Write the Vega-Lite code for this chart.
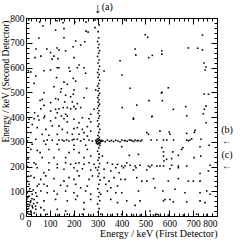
{
"$schema":"https://vega.github.io/schema/vega-lite/v6.json",
"width":191,"height":198,
"autosize":{"type":"none"},
"padding":{"left":26,"top":18,"right":23,"bottom":27},
"background":"white",
"config":{"view":{"stroke":null},"font":"Liberation Serif","axis":{"grid":false,"domainColor":"black","tickColor":"black","labelColor":"black","titleColor":"black","labelFont":"Liberation Serif","titleFont":"Liberation Serif","labelFontSize":9.5,"titleFontSize":10,"titleFontWeight":"normal","domainWidth":1,"tickWidth":1}},
"datasets":{
"pts":[
{"x":11,"y":792},{"x":57,"y":784},{"x":130,"y":789},{"x":150,"y":795},{"x":155,"y":781},{"x":205,"y":784},{"x":251,"y":784},{"x":289,"y":792},{"x":71,"y":768},{"x":124,"y":751},{"x":159,"y":757},{"x":251,"y":747},{"x":260,"y":743},{"x":289,"y":761},{"x":54,"y":719},{"x":159,"y":720},{"x":208,"y":707},{"x":246,"y":704},{"x":87,"y":675},{"x":42,"y":675},{"x":103,"y":660},{"x":130,"y":679},{"x":138,"y":671},{"x":166,"y":667},{"x":197,"y":684},{"x":229,"y":691},{"x":38,"y":640},{"x":62,"y":646},{"x":109,"y":634},{"x":117,"y":646},{"x":134,"y":636},{"x":201,"y":640},{"x":222,"y":610},{"x":394,"y":627},{"x":180,"y":599},{"x":138,"y":599},
{"x":413,"y":792},{"x":499,"y":732},{"x":510,"y":722},{"x":739,"y":731},{"x":457,"y":675},{"x":569,"y":668},{"x":680,"y":679},{"x":719,"y":678},{"x":739,"y":671},{"x":460,"y":650},{"x":529,"y":649},{"x":569,"y":654},{"x":514,"y":640},{"x":746,"y":618},{"x":754,"y":602},{"x":750,"y":590},{"x":402,"y":570},{"x":436,"y":516},{"x":596,"y":518},{"x":567,"y":497},{"x":570,"y":500},{"x":746,"y":493},{"x":764,"y":492},{"x":515,"y":466},{"x":571,"y":466},{"x":464,"y":448},{"x":754,"y":444},{"x":403,"y":438},{"x":669,"y":442},{"x":617,"y":431},{"x":747,"y":431},{"x":743,"y":413},{"x":450,"y":395},{"x":528,"y":403},{"x":673,"y":405},
{"x":10,"y":587},{"x":20,"y":582},{"x":41,"y":566},{"x":75,"y":587},{"x":103,"y":590},{"x":131,"y":599},{"x":184,"y":585},{"x":215,"y":599},{"x":243,"y":599},{"x":250,"y":577},{"x":327,"y":586},{"x":128,"y":559},{"x":198,"y":556},{"x":208,"y":545},{"x":34,"y":536},{"x":159,"y":541},{"x":173,"y":532},{"x":117,"y":522},{"x":254,"y":516},{"x":148,"y":514},{"x":145,"y":501},{"x":201,"y":509},{"x":292,"y":509},{"x":75,"y":498},{"x":166,"y":488},{"x":198,"y":492},{"x":187,"y":482},{"x":68,"y":471},{"x":124,"y":474},{"x":135,"y":471},{"x":59,"y":467},{"x":243,"y":478},{"x":103,"y":458},{"x":162,"y":461},{"x":194,"y":461},{"x":215,"y":454},{"x":62,"y":433},{"x":124,"y":431},{"x":138,"y":433},{"x":156,"y":438},{"x":173,"y":438},{"x":187,"y":433},{"x":201,"y":442},{"x":208,"y":433},{"x":229,"y":438},{"x":75,"y":447},{"x":103,"y":424},{"x":36,"y":417},{"x":131,"y":417},{"x":166,"y":411},{"x":173,"y":404},{"x":271,"y":411},{"x":285,"y":431},{"x":78,"y":404},{"x":50,"y":404},{"x":148,"y":404},
{"x":13,"y":391},{"x":34,"y":393},{"x":54,"y":388},{"x":75,"y":397},{"x":103,"y":384},{"x":124,"y":397},{"x":159,"y":393},{"x":173,"y":380},{"x":201,"y":391},{"x":222,"y":377},{"x":236,"y":397},{"x":264,"y":393},{"x":271,"y":380},{"x":26,"y":370},{"x":47,"y":357},{"x":83,"y":350},{"x":110,"y":364},{"x":138,"y":364},{"x":152,"y":350},{"x":201,"y":353},{"x":215,"y":357},{"x":236,"y":350},{"x":257,"y":361},{"x":271,"y":343},{"x":20,"y":337},{"x":68,"y":330},{"x":96,"y":326},{"x":131,"y":330},{"x":173,"y":337},{"x":194,"y":330},{"x":222,"y":330},{"x":243,"y":337},{"x":257,"y":323},{"x":75,"y":303},{"x":89,"y":307},{"x":110,"y":306},{"x":138,"y":307},{"x":152,"y":307},{"x":159,"y":303},{"x":170,"y":307},{"x":180,"y":303},{"x":194,"y":307},{"x":201,"y":310},{"x":215,"y":310},{"x":229,"y":303},{"x":243,"y":310},{"x":264,"y":307},{"x":278,"y":303},{"x":41,"y":310},{"x":5,"y":303},{"x":26,"y":290},{"x":83,"y":290},{"x":131,"y":290},{"x":201,"y":286},{"x":250,"y":286},{"x":20,"y":269},{"x":47,"y":265},{"x":59,"y":256},{"x":96,"y":269},{"x":138,"y":269},{"x":201,"y":269},{"x":257,"y":269},{"x":222,"y":256},{"x":180,"y":256},{"x":68,"y":236},{"x":117,"y":236},{"x":166,"y":236},{"x":243,"y":236},{"x":271,"y":242},{"x":306,"y":236},{"x":320,"y":242},{"x":34,"y":215},{"x":41,"y":209},{"x":96,"y":215},{"x":131,"y":209},{"x":166,"y":215},{"x":187,"y":209},{"x":208,"y":213},{"x":222,"y":215},{"x":243,"y":209},{"x":264,"y":215},{"x":285,"y":209},{"x":341,"y":215},{"x":362,"y":209},{"x":383,"y":209},
{"x":450,"y":391},{"x":527,"y":401},{"x":754,"y":377},{"x":401,"y":307},{"x":415,"y":304},{"x":433,"y":307},{"x":444,"y":304},{"x":457,"y":307},{"x":471,"y":305},{"x":485,"y":307},{"x":506,"y":337},{"x":513,"y":330},{"x":561,"y":343},{"x":600,"y":339},{"x":603,"y":330},{"x":673,"y":334},{"x":708,"y":346},{"x":705,"y":338},{"x":524,"y":307},{"x":548,"y":307},{"x":576,"y":307},{"x":590,"y":307},{"x":618,"y":307},{"x":673,"y":307},{"x":680,"y":304},{"x":687,"y":307},{"x":694,"y":312},{"x":733,"y":310},{"x":401,"y":280},{"x":569,"y":276},{"x":657,"y":276},{"x":652,"y":269},{"x":576,"y":259},{"x":615,"y":259},{"x":638,"y":245},{"x":729,"y":280},{"x":767,"y":286},{"x":471,"y":249},{"x":433,"y":245},{"x":576,"y":242},{"x":589,"y":229},{"x":610,"y":232},{"x":578,"y":222},{"x":704,"y":236},{"x":732,"y":242},{"x":422,"y":215},{"x":401,"y":202},{"x":415,"y":202},{"x":436,"y":205},{"x":457,"y":202},{"x":478,"y":205},{"x":513,"y":202},{"x":527,"y":205},{"x":548,"y":202},{"x":561,"y":202},{"x":576,"y":202},{"x":610,"y":205},{"x":638,"y":202},{"x":673,"y":202},{"x":771,"y":205},
{"x":47,"y":195},{"x":75,"y":175},{"x":96,"y":186},{"x":131,"y":195},{"x":159,"y":189},{"x":201,"y":195},{"x":215,"y":182},{"x":236,"y":191},{"x":271,"y":186},{"x":292,"y":195},{"x":327,"y":189},{"x":355,"y":182},{"x":376,"y":195},{"x":390,"y":175},{"x":20,"y":162},{"x":34,"y":155},{"x":62,"y":148},{"x":83,"y":162},{"x":117,"y":151},{"x":159,"y":141},{"x":180,"y":155},{"x":201,"y":148},{"x":222,"y":162},{"x":264,"y":148},{"x":278,"y":162},{"x":327,"y":155},{"x":348,"y":141},{"x":369,"y":155},{"x":397,"y":148},{"x":13,"y":128},{"x":54,"y":128},{"x":47,"y":121},{"x":75,"y":128},{"x":89,"y":121},{"x":145,"y":124},{"x":173,"y":121},{"x":208,"y":128},{"x":229,"y":114},{"x":257,"y":121},{"x":334,"y":128},{"x":355,"y":114},{"x":383,"y":121},{"x":5,"y":94},{"x":13,"y":81},{"x":26,"y":88},{"x":41,"y":94},{"x":62,"y":101},{"x":89,"y":94},{"x":117,"y":101},{"x":131,"y":88},{"x":166,"y":101},{"x":201,"y":94},{"x":215,"y":81},{"x":250,"y":101},{"x":271,"y":88},{"x":313,"y":88},{"x":341,"y":101},{"x":376,"y":94},{"x":3,"y":67},{"x":20,"y":61},{"x":34,"y":67},{"x":8,"y":47},{"x":26,"y":40},{"x":47,"y":54},{"x":75,"y":61},{"x":124,"y":67},{"x":173,"y":61},{"x":208,"y":67},{"x":243,"y":54},{"x":271,"y":67},{"x":355,"y":67},{"x":383,"y":54},{"x":5,"y":27},{"x":20,"y":20},{"x":41,"y":27},{"x":62,"y":34},{"x":75,"y":24},{"x":131,"y":27},{"x":166,"y":20},{"x":243,"y":27},{"x":13,"y":7},{"x":20,"y":7},{"x":62,"y":4},{"x":89,"y":7},{"x":133,"y":4},{"x":173,"y":7},{"x":201,"y":4},{"x":236,"y":7},{"x":271,"y":4},{"x":313,"y":7},{"x":355,"y":4},{"x":383,"y":7},
{"x":6,"y":12},{"x":10,"y":30},{"x":15,"y":45},{"x":18,"y":55},{"x":22,"y":15},{"x":28,"y":33},{"x":32,"y":50},{"x":8,"y":75},{"x":12,"y":100},{"x":25,"y":70},{"x":35,"y":12},{"x":40,"y":40},{"x":16,"y":110},{"x":30,"y":105},{"x":45,"y":80},{"x":5,"y":140},{"x":10,"y":160},{"x":6,"y":200},{"x":8,"y":230},
{"x":408,"y":195},{"x":450,"y":186},{"x":461,"y":195},{"x":506,"y":186},{"x":520,"y":198},{"x":603,"y":191},{"x":638,"y":195},{"x":729,"y":172},{"x":764,"y":182},{"x":415,"y":148},{"x":464,"y":155},{"x":485,"y":141},{"x":506,"y":141},{"x":534,"y":151},{"x":596,"y":141},{"x":638,"y":151},{"x":680,"y":141},{"x":701,"y":141},{"x":729,"y":141},{"x":401,"y":94},{"x":471,"y":101},{"x":540,"y":114},{"x":573,"y":101},{"x":624,"y":108},{"x":666,"y":94},{"x":729,"y":94},{"x":757,"y":101},{"x":771,"y":88},{"x":422,"y":61},{"x":478,"y":61},{"x":576,"y":61},{"x":582,"y":67},{"x":603,"y":67},{"x":617,"y":57},{"x":673,"y":57},{"x":729,"y":61},{"x":750,"y":54},{"x":457,"y":43},{"x":520,"y":20},{"x":548,"y":7},{"x":401,"y":7},{"x":422,"y":4},{"x":450,"y":4},{"x":478,"y":4},{"x":502,"y":4},{"x":534,"y":4},{"x":555,"y":4},{"x":596,"y":4},{"x":659,"y":4},{"x":715,"y":7},{"x":757,"y":4},
{"x":302,"y":15},{"x":306,"y":30},{"x":300,"y":48},{"x":309,"y":62},{"x":303,"y":78},{"x":307,"y":95},{"x":301,"y":110},{"x":305,"y":128},{"x":310,"y":145},{"x":302,"y":160},{"x":306,"y":172},{"x":300,"y":185},{"x":304,"y":198},{"x":308,"y":212},{"x":302,"y":225},{"x":306,"y":250},{"x":300,"y":262},{"x":305,"y":275},{"x":309,"y":285},{"x":302,"y":292},{"x":306,"y":296},{"x":300,"y":300},{"x":304,"y":304},{"x":308,"y":308},{"x":296,"y":302},{"x":312,"y":300},{"x":303,"y":312},{"x":307,"y":318},{"x":301,"y":325},{"x":305,"y":338},{"x":309,"y":350},{"x":302,"y":362},{"x":306,"y":372},{"x":300,"y":385},{"x":304,"y":395},{"x":308,"y":405},{"x":302,"y":415},{"x":306,"y":425},{"x":300,"y":435},{"x":304,"y":445},{"x":308,"y":452},{"x":302,"y":460},{"x":306,"y":470},{"x":300,"y":478},{"x":304,"y":487},{"x":308,"y":495},{"x":302,"y":505},{"x":306,"y":515},{"x":300,"y":525},{"x":304,"y":535},{"x":308,"y":548},{"x":302,"y":560},{"x":306,"y":572},{"x":300,"y":580},{"x":304,"y":592},{"x":308,"y":605},{"x":302,"y":618},{"x":306,"y":630},{"x":300,"y":645},{"x":304,"y":658},{"x":308,"y":668},{"x":302,"y":680},{"x":306,"y":693},{"x":300,"y":705},{"x":304,"y":720},{"x":302,"y":745},{"x":306,"y":772},{"x":300,"y":796},
{"x":295,"y":295},{"x":298,"y":310},{"x":310,"y":293},{"x":314,"y":306},{"x":300,"y":290},{"x":292,"y":305},{"x":318,"y":302},
{"x":322,"y":304},{"x":332,"y":300},{"x":341,"y":306},{"x":350,"y":302},{"x":358,"y":305},{"x":367,"y":301},{"x":376,"y":306},{"x":385,"y":303},{"x":394,"y":300},{"x":412,"y":305},{"x":424,"y":302},{"x":440,"y":306},{"x":452,"y":301},{"x":466,"y":304},{"x":480,"y":302}
],
"ann":[
{"ax":300,"ay":838,"t":"↓","s":14},
{"ax":340,"ay":845,"t":"(a)","s":10},
{"ax":842,"ay":346,"t":"(b)","s":10},
{"ax":842,"ay":303,"t":"←","s":10},
{"ax":842,"ay":246,"t":"(c)","s":10},
{"ax":842,"ay":203,"t":"←","s":10}
]},
"data":{"name":"pts"},
"resolve":{"axis":{"x":"independent","y":"independent"}},
"layer":[
{"mark":{"type":"square","size":2.5,"color":"black","opacity":1},
 "encoding":{
  "x":{"field":"x","type":"quantitative","scale":{"domain":[0,800],"nice":false,"zero":false},
   "axis":{"orient":"bottom","values":[0,100,200,300,400,500,600,700,800],"tickSize":-6,"labelPadding":8,"title":"Energy / keV (First Detector)","titleAnchor":"end","titleAlign":"right","titlePadding":1}},
  "y":{"field":"y","type":"quantitative","scale":{"domain":[0,800],"nice":false,"zero":false},
   "axis":{"orient":"left","values":[0,100,200,300,400,500,600,700,800],"tickSize":-6,"labelPadding":8,"title":"Energy / keV (Second Detector)","titleFontSize":9.5,"titleX":-21,"titleY":2,"titleAngle":-90,"titleAlign":"right","titleBaseline":"middle"}}}},
{"mark":{"type":"square","opacity":0},
 "encoding":{
  "x":{"field":"x","type":"quantitative","axis":{"orient":"bottom","values":[20,40,60,80,120,140,160,180,220,240,260,280,320,340,360,380,420,440,460,480,520,540,560,580,620,640,660,680,720,740,760,780],"tickSize":-3,"labels":false,"domain":false,"title":null}},
  "y":{"field":"y","type":"quantitative","axis":{"orient":"left","values":[20,40,60,80,120,140,160,180,220,240,260,280,320,340,360,380,420,440,460,480,520,540,560,580,620,640,660,680,720,740,760,780],"tickSize":-3,"labels":false,"domain":false,"title":null}}}},
{"mark":{"type":"square","opacity":0},
 "encoding":{
  "x":{"field":"x","type":"quantitative","axis":{"orient":"top","values":[0,100,200,300,400,500,600,700,800],"tickSize":-6,"labels":false,"title":null}},
  "y":{"field":"y","type":"quantitative","axis":{"orient":"right","values":[0,100,200,300,400,500,600,700,800],"tickSize":-6,"labels":false,"title":null}}}},
{"mark":{"type":"square","opacity":0},
 "encoding":{
  "x":{"field":"x","type":"quantitative","axis":{"orient":"top","values":[20,40,60,80,120,140,160,180,220,240,260,280,320,340,360,380,420,440,460,480,520,540,560,580,620,640,660,680,720,740,760,780],"tickSize":-3,"labels":false,"domain":false,"title":null}},
  "y":{"field":"y","type":"quantitative","axis":{"orient":"right","values":[20,40,60,80,120,140,160,180,220,240,260,280,320,340,360,380,420,440,460,480,520,540,560,580,620,640,660,680,720,740,760,780],"tickSize":-3,"labels":false,"domain":false,"title":null}}}},
{"data":{"name":"ann"},
 "mark":{"type":"text","font":"Liberation Serif","color":"black","align":"center","baseline":"middle"},
 "encoding":{
  "x":{"field":"ax","type":"quantitative","axis":null},
  "y":{"field":"ay","type":"quantitative","axis":null},
  "text":{"field":"t"},
  "size":{"field":"s","type":"quantitative","scale":null}}}
]
}
